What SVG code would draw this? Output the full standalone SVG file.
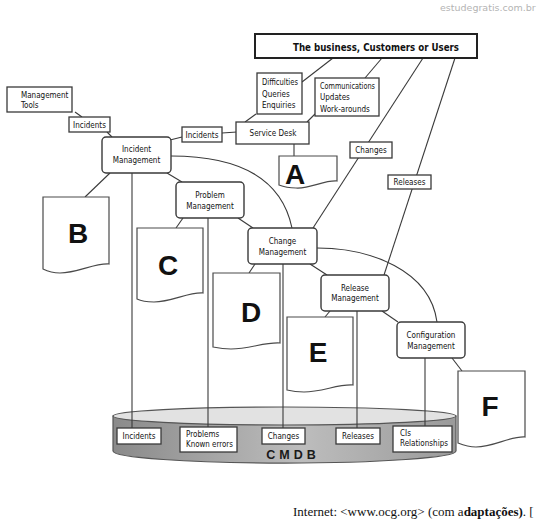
<svg xmlns="http://www.w3.org/2000/svg" width="543" height="524" viewBox="0 0 543 524">
<defs>
<style>
.bg{fill:#fff}
.n{fill:#fff;stroke:#3a3a3a;stroke-width:1.4}
.r{fill:#fff;stroke:#3a3a3a;stroke-width:1.3}
.doc{fill:#fff;stroke:#4a4a4a;stroke-width:1.2}
.c{fill:none;stroke:#3a3a3a;stroke-width:1.1}
.t{font-family:"DejaVu Sans Condensed","Liberation Sans Narrow","Liberation Sans",sans-serif;font-size:8px;fill:#111}
.m{text-anchor:middle}
.big{font-family:"Liberation Sans",Arial,sans-serif;font-weight:bold;font-size:28px;fill:#111;text-anchor:middle}
</style>
<linearGradient id="body" x1="0" y1="0" x2="1" y2="0">
<stop offset="0" stop-color="#8a8a8a"/>
<stop offset="0.55" stop-color="#bdbdbd"/>
<stop offset="1" stop-color="#9a9a9a"/>
</linearGradient>
</defs>
<rect class="bg" x="0" y="0" width="543" height="524"/>

<text x="440" y="11" font-family="'DejaVu Sans',Verdana,sans-serif" font-size="9.5" fill="#b4b4b4">estudegratis.com.br</text>

<g id="connectors">
<line class="c" x1="333" y1="58" x2="302" y2="82"/>
<line class="c" x1="382" y1="58" x2="365" y2="78"/>
<line class="c" x1="423" y1="58" x2="313" y2="228"/>
<line class="c" x1="455" y1="58" x2="384" y2="275"/>
<line class="c" x1="256" y1="114" x2="245" y2="122"/>
<line class="c" x1="315" y1="114" x2="307" y2="122"/>
<line class="c" x1="222" y1="133" x2="237" y2="132"/>
<line class="c" x1="170" y1="140" x2="182" y2="137"/>
<line class="c" x1="75" y1="112" x2="82" y2="117"/>
<line class="c" x1="107" y1="132" x2="112" y2="137"/>
<line class="c" x1="294" y1="144" x2="294" y2="156"/>
<path class="c" d="M171,156 C225,156 280,170 292,228"/>
<path class="c" d="M317,248 C370,248 430,270 437,322"/>
<line class="c" x1="110" y1="173" x2="85" y2="197"/>
<line class="c" x1="167" y1="173" x2="182" y2="182"/>
<line class="c" x1="183" y1="218" x2="176" y2="228"/>
<line class="c" x1="238" y1="218" x2="253" y2="228"/>
<line class="c" x1="255" y1="264" x2="249" y2="273"/>
<line class="c" x1="310" y1="264" x2="327" y2="275"/>
<line class="c" x1="330" y1="311" x2="325" y2="317"/>
<line class="c" x1="382" y1="311" x2="398" y2="322"/>
<line class="c" x1="452" y1="358" x2="462" y2="371"/>
</g>

<g id="cmdb">
<path d="M113,416 V451 A171,12 0 0 0 456,451 V416 Z" fill="url(#body)" stroke="#555" stroke-width="1.2"/>
<ellipse cx="284.5" cy="416" rx="171.5" ry="9" fill="#e2e2e2" stroke="#555" stroke-width="1.2"/>
<text x="293" y="459" font-family="'Liberation Sans',Arial,sans-serif" font-weight="bold" font-size="12.5" letter-spacing="4" fill="#1a1a1a" text-anchor="middle">CMDB</text>
</g>

<g id="datalines">
<line class="c" x1="132" y1="173" x2="132" y2="428"/>
<line class="c" x1="208" y1="218" x2="208" y2="427"/>
<line class="c" x1="283" y1="264" x2="283" y2="428"/>
<line class="c" x1="357" y1="311" x2="357" y2="428"/>
<line class="c" x1="425" y1="358" x2="425" y2="426"/>
</g>

<g id="db-incidents"><rect class="r" x="117" y="428" width="44" height="16"/><text class="t m" x="139" y="439">Incidents</text></g>
<g id="db-problems"><rect class="r" x="180" y="427" width="57" height="25"/><text class="t" x="186" y="437">Problems</text><text class="t" x="186" y="447" textLength="47" lengthAdjust="spacingAndGlyphs">Known errors</text></g>
<g id="db-changes"><rect class="r" x="262" y="428" width="43" height="16"/><text class="t m" x="283.5" y="439">Changes</text></g>
<g id="db-releases"><rect class="r" x="336" y="428" width="44" height="16"/><text class="t m" x="358" y="439">Releases</text></g>
<g id="db-cis"><rect class="r" x="393" y="426" width="59" height="26"/><text class="t" x="400" y="436">CIs</text><text class="t" x="400" y="446" textLength="48" lengthAdjust="spacingAndGlyphs">Relationships</text></g>

<g id="business"><rect x="255" y="34" width="222" height="24" fill="#fff" stroke="#222" stroke-width="2"/><text x="376" y="51" font-family="'DejaVu Sans Condensed','Liberation Sans Narrow','Liberation Sans',sans-serif" font-weight="bold" font-size="11" fill="#111" text-anchor="middle" textLength="166" lengthAdjust="spacingAndGlyphs">The business, Customers or Users</text></g>
<g id="difficulties"><rect class="r" x="257" y="73" width="45" height="41"/><text class="t" x="262" y="85" textLength="36" lengthAdjust="spacingAndGlyphs">Difficulties</text><text class="t" x="262" y="97">Queries</text><text class="t" x="262" y="108">Enquiries</text></g>
<g id="communications"><rect class="r" x="315" y="78" width="64" height="38"/><text class="t" x="320" y="89" textLength="55" lengthAdjust="spacingAndGlyphs">Communications</text><text class="t" x="320" y="100">Updates</text><text class="t" x="320" y="112">Work-arounds</text></g>
<g id="service-desk"><rect class="r" x="236" y="122" width="73" height="22"/><text class="t m" x="273" y="136">Service Desk</text></g>
<g id="incidents-sd"><rect class="r" x="182" y="127" width="40" height="15"/><text class="t m" x="202" y="138">Incidents</text></g>
<g id="mgmt-tools"><rect class="r" x="7" y="87" width="65" height="25"/><text class="t" x="21" y="98">Management</text><text class="t" x="21" y="108">Tools</text></g>
<g id="incidents-mt"><rect class="r" x="69" y="117" width="41" height="15"/><text class="t m" x="89.5" y="128">Incidents</text></g>
<g id="changes-label"><rect class="r" x="350" y="142" width="42" height="16"/><text class="t m" x="371" y="153">Changes</text></g>
<g id="releases-label"><rect class="r" x="388" y="175" width="43" height="14"/><text class="t m" x="409.5" y="185">Releases</text></g>

<g id="incident-mgmt"><rect class="n" x="102" y="137" width="69" height="36" rx="4"/><text class="t m" x="136.5" y="152">Incident</text><text class="t m" x="136.5" y="163">Management</text></g>
<g id="problem-mgmt"><rect class="n" x="176" y="182" width="68" height="36" rx="4"/><text class="t m" x="210" y="198">Problem</text><text class="t m" x="210" y="209">Management</text></g>
<g id="change-mgmt"><rect class="n" x="248" y="228" width="69" height="36" rx="4"/><text class="t m" x="282.5" y="244">Change</text><text class="t m" x="282.5" y="255">Management</text></g>
<g id="release-mgmt"><rect class="n" x="321" y="275" width="68" height="36" rx="4"/><text class="t m" x="355" y="291">Release</text><text class="t m" x="355" y="301">Management</text></g>
<g id="config-mgmt"><rect class="n" x="397" y="322" width="68" height="36" rx="4"/><text class="t m" x="431" y="338">Configuration</text><text class="t m" x="431" y="349">Management</text></g>

<g id="doc-a"><path class="doc" d="M279,156 H337 V181 C324,180 310,189 296,188 C290,188 284,187 279,185 Z"/><text class="big" x="295" y="184">A</text></g>
<g id="doc-b"><path class="doc" d="M43,197 H109 V264 C94,263 78,273 60,273 C53,273 47,271 43,269 Z"/><text class="big" x="78" y="243">B</text></g>
<g id="doc-c"><path class="doc" d="M137,228 H203 V293 C188,292 172,302 154,302 C147,302 141,301 137,299 Z"/><text class="big" x="168" y="275">C</text></g>
<g id="doc-d"><path class="doc" d="M213,273 H280 V343 C265,342 249,349 231,349 C224,349 218,348 213,347 Z"/><text class="big" x="251" y="322">D</text></g>
<g id="doc-e"><path class="doc" d="M287,317 H353 V385 C338,384 322,392 304,392 C297,392 291,391 287,390 Z"/><text class="big" x="318" y="362">E</text></g>
<g id="doc-f"><path class="doc" d="M458,371 H525 V437 C510,436 494,447 476,447 C469,447 463,445 458,443 Z"/><text class="big" x="490" y="416">F</text></g>

<text x="293" y="516" font-family="'Liberation Serif','Times New Roman',serif" font-size="13" fill="#111">Internet: &lt;www.ocg.org&gt; (com a<tspan font-weight="bold">daptações)</tspan>. [</text>
</svg>
